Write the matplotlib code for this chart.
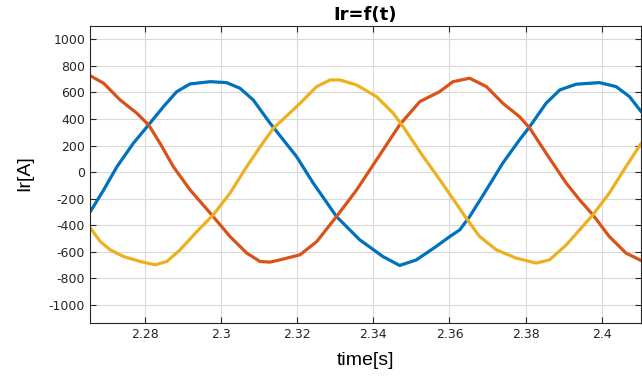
import numpy as np
import matplotlib.pyplot as plt

plt.rcParams['font.family'] = ['DejaVu Sans']
plt.rcParams['axes.unicode_minus'] = False

# phase currents sampled from the simulation output
t_a = [2.2656, 2.2691, 2.2726, 2.2769, 2.2809, 2.2848, 2.2883, 2.2918, 2.2971, 2.3014,
       2.3049, 2.3084, 2.3128, 2.3198, 2.3242, 2.3303, 2.3364, 2.3425, 2.3469, 2.3513,
       2.3565, 2.3601, 2.3627, 2.3653, 2.3697, 2.3740, 2.3784, 2.3811, 2.3854, 2.3890,
       2.3933, 2.3994, 2.4038, 2.4073, 2.4104]
i_a = [-296, -133, 42, 218, 356, 493, 606, 664, 681, 674,
       632, 544, 370, 117, -83, -334, -509, -635, -702, -660,
       -559, -484, -434, -334, -133, 68, 243, 343, 519, 619,
       662, 674, 644, 569, 455]

t_b = [2.2656, 2.2691, 2.2734, 2.2778, 2.2809, 2.2839, 2.2874, 2.2918, 2.2971, 2.3023,
       2.3067, 2.3102, 2.3128, 2.3154, 2.3207, 2.3251, 2.3303, 2.3356, 2.3408, 2.3469,
       2.3522, 2.3574, 2.3609, 2.3653, 2.3697, 2.3740, 2.3784, 2.3811, 2.3854, 2.3907,
       2.3942, 2.3977, 2.4020, 2.4064, 2.4104]
i_b = [725, 669, 544, 444, 356, 218, 42, -133, -308, -484,
       -609, -672, -677, -660, -622, -522, -334, -133, 92, 356,
       531, 606, 681, 707, 644, 519, 418, 331, 143, -83,
       -208, -321, -484, -609, -665]

t_c = [2.2656, 2.2682, 2.2708, 2.2743, 2.2787, 2.2826, 2.2857, 2.2892, 2.2936, 2.2979,
       2.3023, 2.3067, 2.3102, 2.3137, 2.3198, 2.3251, 2.3286, 2.3312, 2.3356, 2.3408,
       2.3452, 2.3478, 2.3531, 2.3574, 2.3609, 2.3644, 2.3679, 2.3723, 2.3775, 2.3828,
       2.3863, 2.3907, 2.3942, 2.3977, 2.4020, 2.4064, 2.4104]
i_c = [-421, -522, -584, -635, -672, -697, -672, -584, -447, -321,
       -158, 42, 190, 331, 493, 644, 694, 694, 656, 569,
       444, 343, 117, -55, -200, -346, -484, -584, -647, -684,
       -660, -547, -434, -321, -158, 42, 218]

xticks = [2.28, 2.3, 2.32, 2.34, 2.36, 2.38, 2.4]
xticklabels = ['2.28', '2.3', '2.32', '2.34', '2.36', '2.38', '2.4']
yticks = list(range(-1000, 1001, 200))

fig = plt.figure(figsize=(6.42, 3.78), dpi=100)
ax = fig.add_axes([0.1402, 0.1455, 0.858, 0.7857])

for t, i, c in [(t_a, i_a, '#0072BD'), (t_b, i_b, '#D95319'), (t_c, i_c, '#EDB120')]:
    ax.plot(t, i, color=c, lw=2.3, solid_joinstyle='round', solid_capstyle='round')

ax.set_xlim(2.2655, 2.4103)
ax.set_ylim(-1135, 1100)
ax.set_xticks(xticks)
ax.set_xticklabels(xticklabels)
ax.set_yticks(yticks)
ax.grid(True, color='#d9d9d9', lw=0.8)
ax.tick_params(direction='in', top=True, right=True, labelsize=9,
               colors='#262626', length=4)
for s in ax.spines.values():
    s.set_color('#262626')
    s.set_linewidth(0.8)

ax.set_title('Ir=f(t)', fontsize=13, fontweight='bold', pad=4)
ax.set_xlabel('time[s]', fontsize=14, labelpad=8,
              family=['Liberation Sans', 'DejaVu Sans'])
ax.set_ylabel('Ir[A]', fontsize=14,
              family=['Liberation Sans Narrow', 'Liberation Sans', 'DejaVu Sans'])
ax.yaxis.set_label_coords(-0.103, 0.505)

fig.savefig('out.png', dpi=100)
